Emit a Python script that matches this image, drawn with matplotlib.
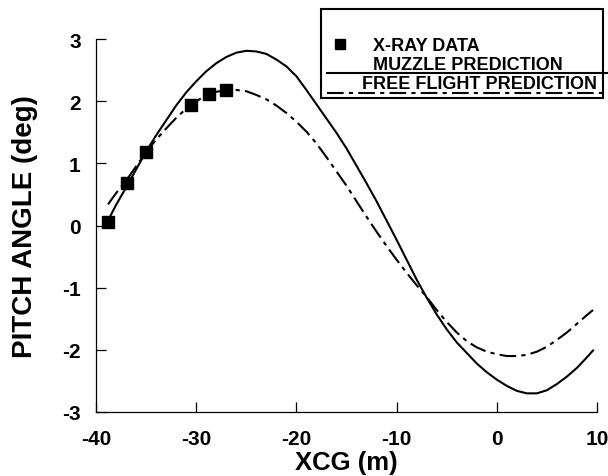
import matplotlib
matplotlib.use("Agg")
import matplotlib.pyplot as plt
from matplotlib.lines import Line2D
from matplotlib.patches import Rectangle

plt.rcParams['font.family'] = ['Liberation Sans', 'DejaVu Sans']
plt.rcParams['font.weight'] = 'bold'
plt.rcParams['axes.unicode_minus'] = False

# ── data ─────────────────────────────────────────────────────────────────────
xray_x = [-38.8, -36.9, -35.0, -30.5, -28.7, -27.0]
xray_y = [0.06, 0.69, 1.19, 1.94, 2.12, 2.18]

muzzle_x = [-38.8, -38, -37, -36, -35, -34, -33, -32, -31, -30, -29, -28, -27, -26,
            -25, -24, -23, -22, -21, -20, -19, -18, -17, -16, -15, -14, -13, -12,
            -11, -10, -9, -8, -7, -6, -5, -4, -3, -2, -1, 0, 1, 2, 3, 4, 5, 6, 7,
            8, 9, 9.6]
muzzle_y = [0.08, 0.33, 0.61, 0.90, 1.19, 1.45, 1.69, 1.93, 2.14, 2.32, 2.48, 2.61,
            2.71, 2.78, 2.81, 2.80, 2.76, 2.67, 2.56, 2.40, 2.18, 1.95, 1.72, 1.49,
            1.24, 0.96, 0.68, 0.39, 0.08, -0.23, -0.55, -0.87, -1.16, -1.43, -1.67,
            -1.88, -2.05, -2.22, -2.36, -2.48, -2.58, -2.66, -2.70, -2.70, -2.65,
            -2.55, -2.43, -2.29, -2.12, -2.01]

free_x = [-38.8, -38, -37, -36, -35, -34, -33, -32, -31, -30, -29, -28, -27, -26,
          -25, -24, -23, -22, -21, -20, -19, -18, -17, -16, -15, -14, -13, -12,
          -11, -10, -9, -8, -7, -6, -5, -4, -3, -2, -1, 0, 1, 2, 3, 4, 5, 6, 7,
          8, 9, 9.6]
free_y = [0.34, 0.52, 0.72, 0.95, 1.18, 1.38, 1.56, 1.73, 1.88, 2.00, 2.09, 2.15,
          2.18, 2.18, 2.16, 2.10, 2.03, 1.93, 1.81, 1.67, 1.51, 1.32, 1.10, 0.87,
          0.64, 0.39, 0.14, -0.10, -0.33, -0.55, -0.76, -0.96, -1.15, -1.36, -1.55,
          -1.72, -1.86, -1.96, -2.03, -2.07, -2.10, -2.10, -2.08, -2.03, -1.95,
          -1.84, -1.72, -1.58, -1.44, -1.36]

x_ticks = [-40, -30, -20, -10, 0, 10]
y_ticks = [-3, -2, -1, 0, 1, 2, 3]

# ── figure ───────────────────────────────────────────────────────────────────
W, H = 608, 477
fig = plt.figure(figsize=(6.08, 4.77), dpi=100)
ax = fig.add_axes([96 / W, 64 / H, 501 / W, 373 / H])

dashdot = (0, (8, 2.5, 2, 2.5))
ax.plot(muzzle_x, muzzle_y, color='black', lw=1.5)
ax.plot(free_x, free_y, color='black', lw=1.5, linestyle=dashdot)
ax.plot(xray_x, xray_y, linestyle='none', marker='s', ms=9, color='black')

ax.set_xlim(-40, 10)
ax.set_ylim(-3, 3)
ax.set_xticks(x_ticks)
ax.set_yticks(y_ticks)
ax.spines['top'].set_visible(False)
ax.spines['right'].set_visible(False)
for s in ('left', 'bottom'):
    ax.spines[s].set_linewidth(0.9)
ax.tick_params(direction='in', length=7, width=0.9, labelsize=15)
ax.tick_params(axis='x', pad=12)
ax.tick_params(axis='y', pad=11)

ax.set_xlabel('XCG (m)', fontsize=18.5, fontweight='bold')
ax.set_ylabel('PITCH ANGLE (deg)', fontsize=20, fontweight='bold')
ax.xaxis.set_label_coords(0.5, (413 - 451) / 373)
ax.yaxis.set_label_coords((38 - 96) / 501, 0.5)

# ── legend drawn by hand (lines sit under the text) ──────────────────────────
fig.add_artist(Rectangle((321 / W, 1 - 99 / H), 282 / W, 89 / H, transform=fig.transFigure,
                         fill=False, lw=1.5, edgecolor='black'))
fig.add_artist(Line2D([340 / W], [1 - 45 / H], transform=fig.transFigure,
                      marker='s', ms=7, color='black', linestyle='none'))
fig.text(373 / W, 1 - 51 / H, 'X-RAY DATA', fontsize=13, fontweight='bold', va='baseline')
fig.text(373 / W, 1 - 70 / H, 'MUZZLE PREDICTION', fontsize=13, fontweight='bold', va='baseline')
fig.add_artist(Line2D([327 / W, 607 / W], [1 - 74 / H] * 2, transform=fig.transFigure,
                      color='black', lw=1.5))
fig.text(362 / W, 1 - 89 / H, 'FREE FLIGHT PREDICTION', fontsize=13, fontweight='bold', va='baseline')
fig.add_artist(Line2D([327 / W, 607 / W], [1 - 94 / H] * 2, transform=fig.transFigure,
                      color='black', lw=1.5, linestyle=dashdot))

fig.savefig('out.png', dpi=100)
